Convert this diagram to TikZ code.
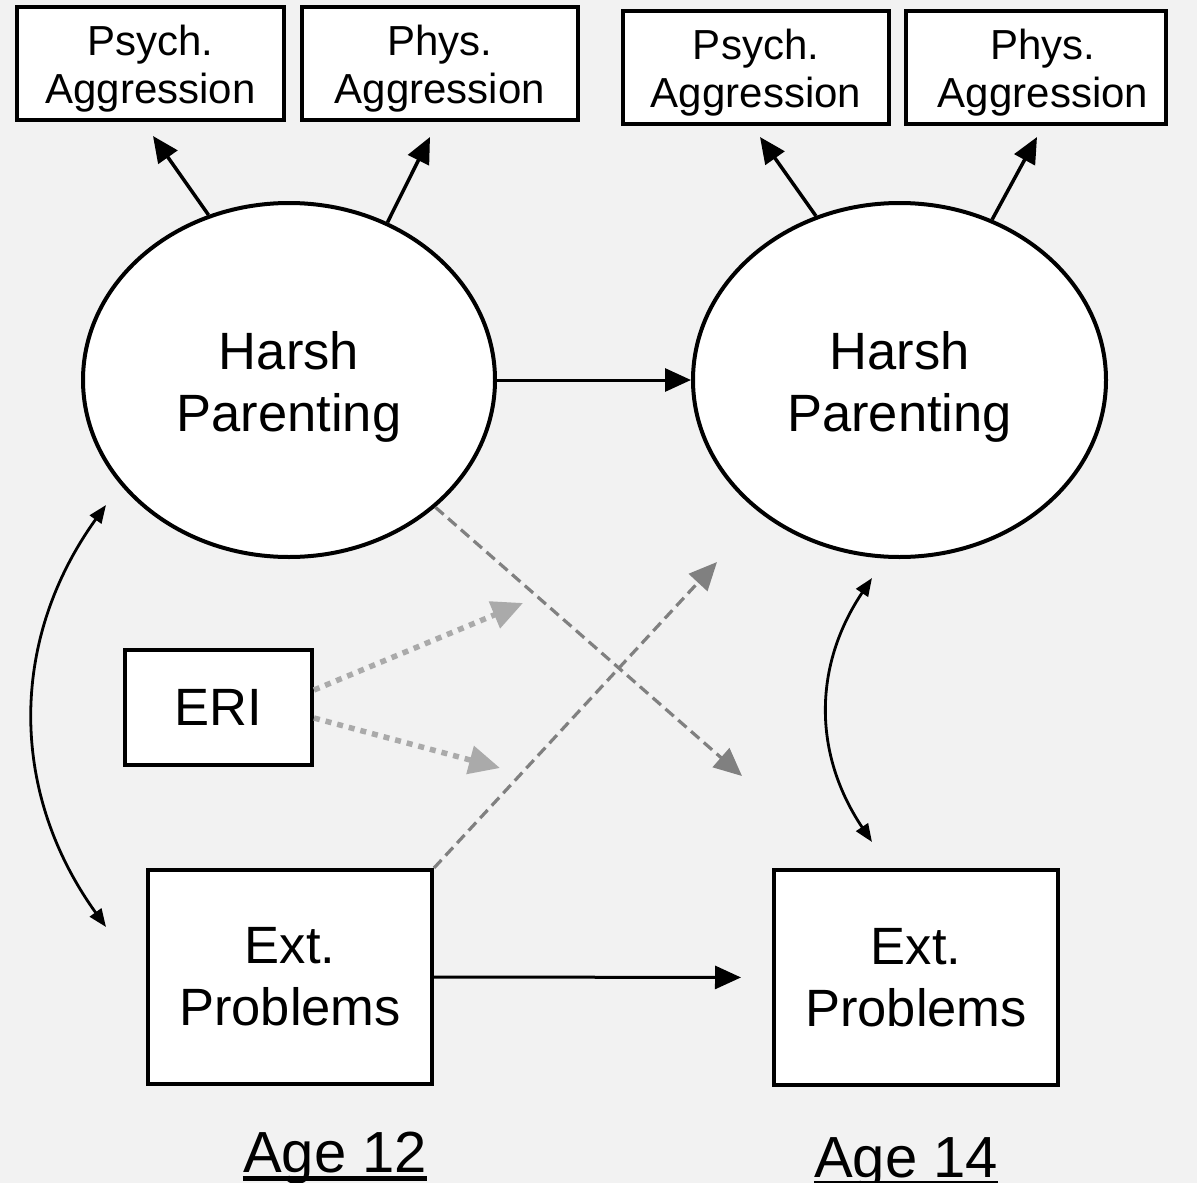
\documentclass[tikz,border=0pt]{standalone}
\usepackage{fontspec}
\setmainfont{Liberation Sans}
\usetikzlibrary{arrows.meta,shapes.geometric}
\definecolor{bgc}{HTML}{F2F2F2}
\definecolor{dashc}{HTML}{808080}
\definecolor{dotc}{HTML}{AAAAAA}
\tikzset{
  smallbox/.style={draw=black,fill=white,line width=4pt,rectangle,inner sep=0pt,align=center,
    font=\fontsize{42}{48}\selectfont},
  bigbox/.style={draw=black,fill=white,line width=4pt,rectangle,inner sep=0pt,align=center,
    font=\fontsize{52.5}{62}\selectfont},
  latent/.style={draw=black,fill=white,line width=4pt,ellipse,inner sep=0pt,align=center,
    minimum width=412pt,minimum height=354pt,font=\fontsize{52.5}{62}\selectfont},
  solidarrow/.style={line width=3.5pt,-{Triangle[length=26pt,width=23pt]}},
  covarrow/.style={line width=2.8pt,{Triangle[length=18pt,width=14pt]}-{Triangle[length=18pt,width=14pt]}},
  dasharrow/.style={draw=dashc,line width=3.2pt,dash pattern=on 11pt off 6pt,
    -{Triangle[length=28pt,width=25pt,fill=dashc]}},
  dotarrow/.style={draw=dotc,line width=5.5pt,dash pattern=on 6pt off 6pt,
    -{Triangle[length=31pt,width=28pt,fill=dotc]}},
  agelabel/.style={inner sep=0pt,anchor=base,font=\fontsize{58}{64}\selectfont}
}
\newcommand{\smallstrut}{\rule{0pt}{41pt}}
\newcommand{\bigstrut}{\rule{0pt}{52pt}}
\begin{document}
\begin{tikzpicture}[x=1pt,y=-1pt]
\fill[bgc] (0,0) rectangle (1197,1183);
\useasboundingbox (0,0) rectangle (1197,1183);

% indicator boxes
\node[smallbox,minimum width=267pt,minimum height=113pt] (psychL) at (150.5,63.5) {\smallstrut Psych.\\Aggression};
\node[smallbox,minimum width=276pt,minimum height=113pt] (physL) at (440,63.5) {\smallstrut Phys.\\Aggression};
\node[smallbox,minimum width=266pt,minimum height=113pt] (psychR) at (756,67.5) {\smallstrut Psych.\\Aggression};
\node[smallbox,minimum width=260pt,minimum height=113pt] (physR) at (1036,67.5) {\smallstrut\hspace*{14pt}Phys.\\\hspace*{14pt}Aggression};

% latent variables
\node[latent] (hpL) at (289,380) {\bigstrut Harsh\\Parenting};
\node[latent,minimum width=413pt] (hpR) at (899.5,380) {\bigstrut Harsh\\Parenting};

% observed
\node[bigbox,minimum width=187pt,minimum height=115pt] (eri) at (218.5,707.5) {ERI};
\node[bigbox,minimum width=284pt,minimum height=214pt] (extL) at (290,977) {Ext.\\Problems};
\node[bigbox,minimum width=284pt,minimum height=215pt] (extR) at (916,977.5) {Ext.\\Problems};

% age labels
\node[agelabel] (age12) at (335,1172) {Age 12};
\node[agelabel] (age14) at (906,1177) {Age 14};
\draw[line width=5pt] ([yshift=-6pt]age12.base west) -- ([yshift=-6pt]age12.base east);
\draw[line width=5pt] ([yshift=-6pt]age14.base west) -- ([yshift=-6pt]age14.base east);

% free arrow ends
\coordinate (tL1) at (153,136);
\coordinate (tL2) at (430,137);
\coordinate (tR1) at (760,137);
\coordinate (tR2) at (1037,137);
\coordinate (dashEnd1) at (742,776);
\coordinate (dashEnd2) at (717,562);
\coordinate (dotEnd1) at (523,603);
\coordinate (dotEnd2) at (500,768);
\coordinate (cL1) at (106,505);
\coordinate (cL2) at (106,927);
\coordinate (cR1) at (872,578);
\coordinate (cR2) at (872,842);

% loadings
\draw[solidarrow] (hpL.116.7) -- (tL1);
\draw[solidarrow] (hpL.58.8) -- (tL2);
\draw[solidarrow] (hpR.117.6) -- (tR1);
\draw[solidarrow] (hpR.60) -- (tR2);

% stability paths
\draw[solidarrow,line width=3pt] (hpL.east) -- (hpR.west);
\draw[solidarrow,line width=3pt,shorten >=31pt] (extL.east) -- (extR.west);

% cross-lagged
\draw[dasharrow] (hpL.-41) -- (dashEnd1);
\draw[dasharrow] (extL.north east) -- (dashEnd2);

% moderation
\draw[dotarrow] ([yshift=17.5pt]eri.east) -- (dotEnd1);
\draw[dotarrow] ([yshift=-10.5pt]eri.east) -- (dotEnd2);

% covariances
\draw[covarrow] (cL1) .. controls (9,640) and (9,792) .. (cL2);
\draw[covarrow] (cR1) .. controls (813,666) and (813,754) .. (cR2);
\end{tikzpicture}
\end{document}
